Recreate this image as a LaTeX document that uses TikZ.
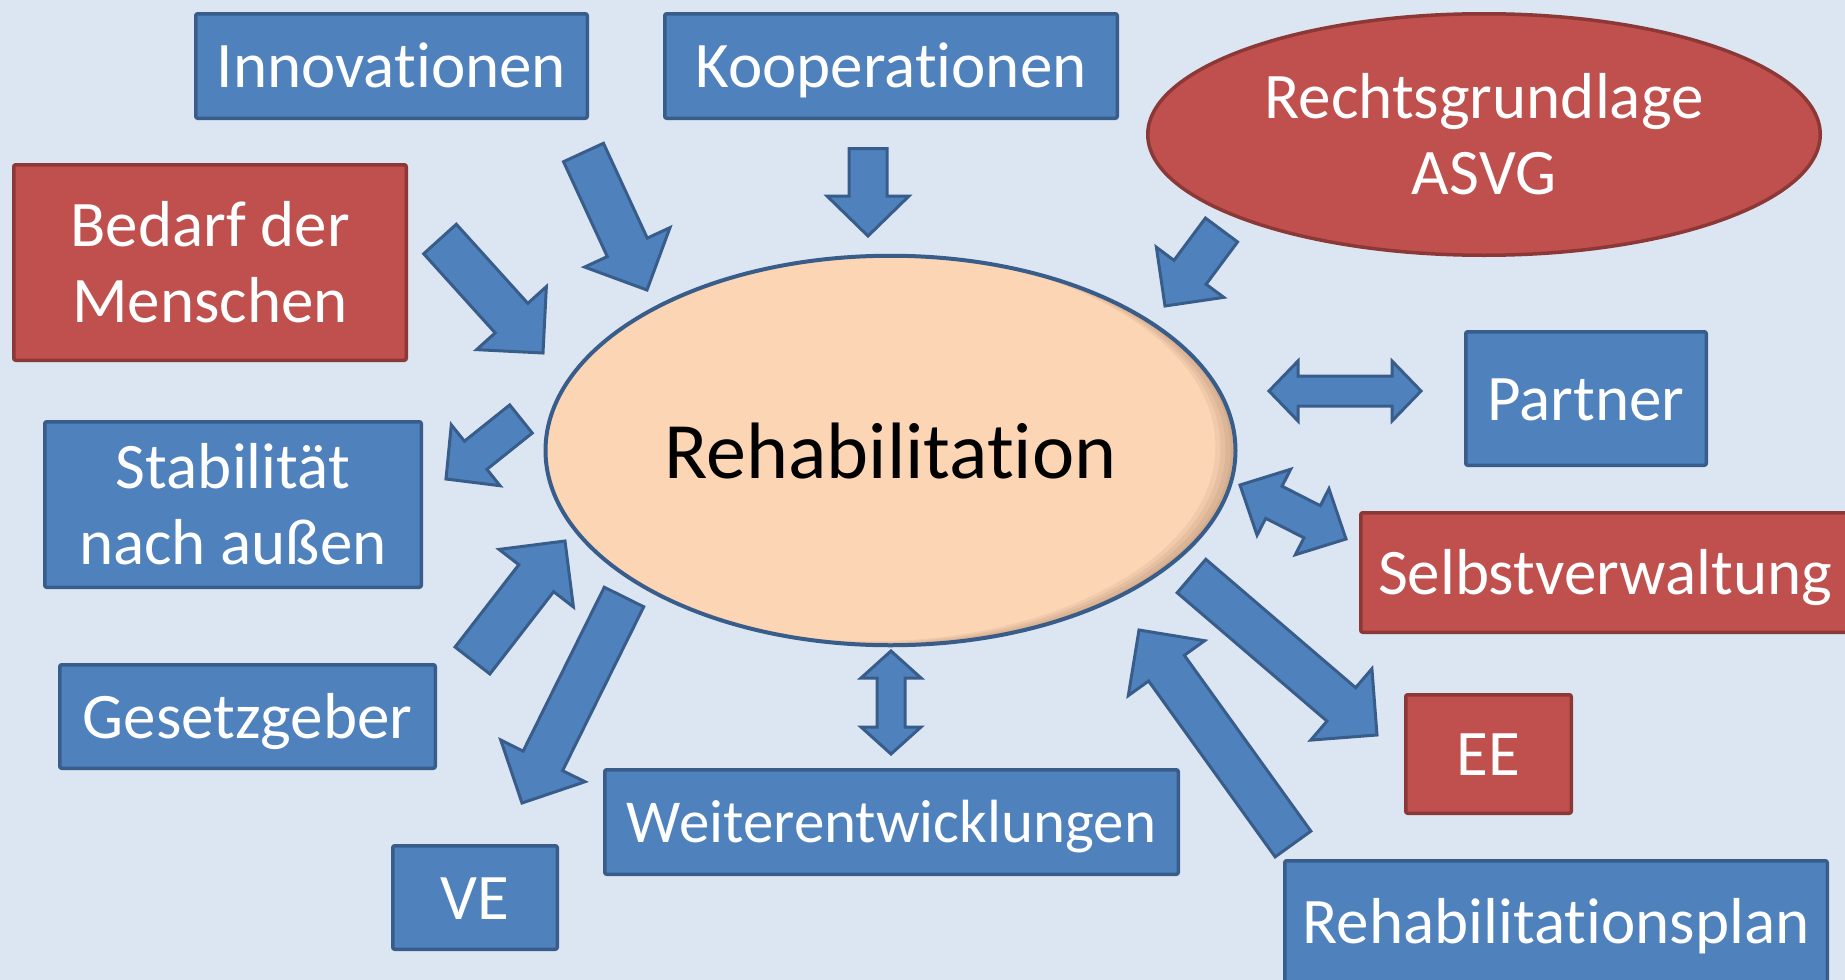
\documentclass[tikz,border=0pt]{standalone}
\usepackage{fontspec}
\setmainfont{Carlito}[Ligatures=NoCommon]
\usepackage{tikz}
\usetikzlibrary{shapes.geometric,calc}

\definecolor{bgblue}{RGB}{220,230,242}
\definecolor{boxblue}{RGB}{79,129,189}
\definecolor{lineblue}{RGB}{56,93,138}
\definecolor{boxred}{RGB}{192,80,77}
\definecolor{linered}{RGB}{140,56,54}
\definecolor{peach}{RGB}{252,213,181}
\definecolor{rim}{RGB}{95,60,35}

\begin{document}
\begin{tikzpicture}[
						x=1pt,
						y=-1pt,
						every node/.style={inner sep=0pt, text=white, font=\fontsize{65}{76}\selectfont},
						bluebox/.style={rectangle, rounded corners=2pt, draw=lineblue, fill=boxblue, line width=3.5pt, text height=45pt, text depth=2pt},
						redbox/.style={bluebox, draw=linered, fill=boxred},
						twolines/.style={align=center, text height=, text depth=},
						fat/.style n args={3}{
							draw=lineblue, fill=boxblue, line width=3pt,
							to path={
								($(\tikztostart)!#1pt!90:(\tikztotarget)$)
								-- ($(\tikztotarget)!#3pt!(\tikztostart)!#1pt!-90:(\tikztostart)$)
								-- ($(\tikztotarget)!#3pt!(\tikztostart)!#2pt!-90:(\tikztostart)$)
								-- (\tikztotarget)
								-- ($(\tikztotarget)!#3pt!(\tikztostart)!#2pt!90:(\tikztostart)$)
								-- ($(\tikztotarget)!#3pt!(\tikztostart)!#1pt!90:(\tikztostart)$)
								-- ($(\tikztostart)!#1pt!-90:(\tikztotarget)$)
								-- cycle
							}
						},
						fatboth/.style n args={3}{
							draw=lineblue, fill=boxblue, line width=3pt,
							to path={
								(\tikztostart)
								-- ($(\tikztostart)!#3pt!(\tikztotarget)!#2pt!90:(\tikztotarget)$)
								-- ($(\tikztostart)!#3pt!(\tikztotarget)!#1pt!90:(\tikztotarget)$)
								-- ($(\tikztotarget)!#3pt!(\tikztostart)!#1pt!-90:(\tikztostart)$)
								-- ($(\tikztotarget)!#3pt!(\tikztostart)!#2pt!-90:(\tikztostart)$)
								-- (\tikztotarget)
								-- ($(\tikztotarget)!#3pt!(\tikztostart)!#2pt!90:(\tikztostart)$)
								-- ($(\tikztotarget)!#3pt!(\tikztostart)!#1pt!90:(\tikztostart)$)
								-- ($(\tikztostart)!#3pt!(\tikztotarget)!#1pt!-90:(\tikztotarget)$)
								-- ($(\tikztostart)!#3pt!(\tikztotarget)!#2pt!-90:(\tikztotarget)$)
								-- cycle
							}
						}
					]
					\useasboundingbox (0,0) rectangle (1845,980);
					\clip (0,0) rectangle (1845,980);
					\fill[bgblue] (0,0) rectangle (1845,980);

					\node[ellipse, draw=lineblue, fill=peach, line width=4pt, minimum width=690pt, minimum height=389.5pt,
						text=black, font=\fontsize{80}{90}\selectfont, text height=57pt, text depth=2pt] (rehab) at (890.5,450.5) {Rehabilitation};
					% shade on the right rim
					\begin{scope}
						\clip (rehab.center) ellipse [x radius=343pt, y radius=193pt];
						\fill[rim, opacity=.07, even odd rule] (rehab.center) ellipse [x radius=345pt, y radius=194.75pt]
							([xshift=-5pt, yshift=1pt]rehab.center) ellipse [x radius=345pt, y radius=194.75pt];
						\fill[rim, opacity=.07, even odd rule] (rehab.center) ellipse [x radius=345pt, y radius=194.75pt]
							([xshift=-10pt, yshift=2pt]rehab.center) ellipse [x radius=345pt, y radius=194.75pt];
						\fill[rim, opacity=.07, even odd rule] (rehab.center) ellipse [x radius=345pt, y radius=194.75pt]
							([xshift=-15pt, yshift=3pt]rehab.center) ellipse [x radius=345pt, y radius=194.75pt];
						\fill[rim, opacity=.07, even odd rule] (rehab.center) ellipse [x radius=345pt, y radius=194.75pt]
							([xshift=-20pt, yshift=4pt]rehab.center) ellipse [x radius=345pt, y radius=194.75pt];
					\end{scope}

					\node[bluebox, minimum width=391.5pt, minimum height=104.5pt] (innov) at (391.5,66) {Innovationen};
					\node[bluebox, minimum width=452.5pt, minimum height=104.5pt] (koop) at (891,66) {Kooperationen};
					\node[ellipse, draw=linered, fill=boxred, line width=3.5pt, minimum width=672.5pt, minimum height=241.5pt, align=center] (asvg) at (1484,134.5) {Rechtsgrundlage\\ASVG};
					\node[redbox, twolines, minimum width=392.5pt, minimum height=195.5pt] (bedarf) at (210,262.5) {Bedarf der\\Menschen};
					\node[bluebox, twolines, minimum width=376.5pt, minimum height=165.5pt] (stabil) at (233,504.5) {Stabilität\\nach außen};
					\node[bluebox, minimum width=375.5pt, minimum height=103.5pt] (gesetz) at (247.5,716.5) {Gesetzgeber};
					\node[bluebox, minimum width=164.5pt, minimum height=103.5pt] (ve) at (475,897.5) {VE};
					\node[bluebox, minimum width=573.5pt, minimum height=104.5pt, font=\fontsize{61}{70}\selectfont, text height=42pt] (weiter) at (891.5,822) {Weiterentwicklungen};
					\node[bluebox, minimum width=542.5pt, minimum height=122.5pt] (plan) at (1556,922) {Rehabilitationsplan};
					\node[redbox, minimum width=165.5pt, minimum height=118.5pt] (ee) at (1488.5,754) {EE};
					\node[redbox, minimum width=488.5pt, minimum height=119.5pt] (selbst) at (1605,572.5) {Selbstverwaltung};
					\node[bluebox, minimum width=240.5pt, minimum height=133.5pt] (partner) at (1586,398.5) {Partner};

					\coordinate (innov-s) at (583.5,152.5);
					\coordinate (innov-e) at (647,290);
					\coordinate (bedarf-s) at (440,239);
					\coordinate (bedarf-e) at (543,353);
					\coordinate (koop-s) at (868,148.5);
					\coordinate (koop-e) at (868,236);
					\coordinate (asvg-s) at (1221.5,230);
					\coordinate (asvg-e) at (1165,306);
					\coordinate (stabil-s) at (521,419);
					\coordinate (stabil-e) at (446,479);
					\coordinate (gesetz-s) at (472.5,660.5);
					\coordinate (gesetz-e) at (565,541);
					\coordinate (ve-s) at (624,597);
					\coordinate (ve-e) at (522,803);
					\coordinate (ee-s) at (1191.5,576);
					\coordinate (ee-e) at (1377,735);
					\coordinate (plan-s) at (1293,844);
					\coordinate (plan-e) at (1139,630);
					\coordinate (partner-s) at (1269,391);
					\coordinate (partner-e) at (1421,391);
					\coordinate (selbst-s) at (1240,485);
					\coordinate (selbst-e) at (1346,539);
					\coordinate (weiter-s) at (891,651);
					\coordinate (weiter-e) at (891,754);

					\draw[fat={22}{47}{47}] (innov-s) to (innov-e);
					\draw[fat={22}{47}{47}] (bedarf-s) to (bedarf-e);
					\draw[fat={19}{41}{40}] (koop-s) to (koop-e);
					\draw[fat={20}{42}{42}] (asvg-s) to (asvg-e);
					\draw[fat={18}{39}{38}] (stabil-s) to (stabil-e);
					\draw[fat={22}{47}{47}] (gesetz-s) to (gesetz-e);
					\draw[fat={22}{47}{47}] (ve-s) to (ve-e);
					\draw[fat={22}{47}{47}] (ee-s) to (ee-e);
					\draw[fat={22}{47}{47}] (plan-s) to (plan-e);
					\draw[fatboth={15}{30}{29}] (partner-s) to (partner-e);
					\draw[fatboth={18}{37}{38}] (selbst-s) to (selbst-e);
					\draw[fatboth={14}{30}{27}] (weiter-s) to (weiter-e);
				\end{tikzpicture}
\end{document}
